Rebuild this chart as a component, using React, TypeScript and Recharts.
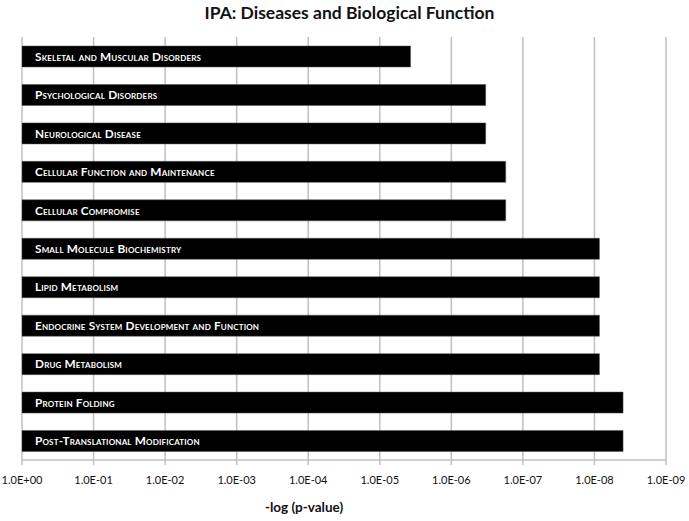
import React from 'react';
import { BarChart, Bar, XAxis, YAxis, CartesianGrid, LabelList } from 'recharts';

const categories = [
  'Skeletal and Muscular Disorders',
  'Psychological Disorders',
  'Neurological Disease',
  'Cellular Function and Maintenance',
  'Cellular Compromise',
  'Small Molecule Biochemistry',
  'Lipid Metabolism',
  'Endocrine System Development and Function',
  'Drug Metabolism',
  'Protein Folding',
  'Post-Translational Modification',
];

// -log10(p-value)
const negLogP = [5.43, 6.48, 6.48, 6.76, 6.76, 8.07, 8.07, 8.07, 8.07, 8.4, 8.4];

const xTicks = [0, 1, 2, 3, 4, 5, 6, 7, 8, 9];
const xTickLabels = ['1.0E+00', '1.0E-01', '1.0E-02', '1.0E-03', '1.0E-04', '1.0E-05', '1.0E-06', '1.0E-07', '1.0E-08', '1.0E-09'];

const chartTitle = 'IPA: Diseases and Biological Function';
const xTitle = '-log (p-value)';

const data = categories.map((name, i) => ({ name, value: negLogP[i] }));

const W = 689;
const H = 521;
const M = { top: 37, right: 23, left: 22, bottom: 0 };
const X_AXIS_H = 61;
const GRID = '#c0c0c0';
const FONT = 'Lato, "Open Sans", sans-serif';

const plotH = H - M.top - M.bottom - X_AXIS_H;
const half = plotH / categories.length / 2;

const YTick = (props: any) => {
  const { x, y } = props;
  return (
    <line x1={x - 4} x2={x} y1={y - half} y2={y - half} stroke={GRID} strokeWidth={1.5} />
  );
};

const BarText = (props: any) => {
  const { x, y, height, value } = props;
  return (
    <text
      x={x + 13}
      y={y + height / 2}
      dy="0.36em"
      fill="#ffffff"
      fontFamily={FONT}
      fontWeight={700}
      fontSize={11.8}
      letterSpacing={0.17}
      style={{ fontVariant: 'small-caps' }}
    >
      {value}
    </text>
  );
};

const XTitle = (props: any) => {
  const { viewBox } = props;
  return (
    <text
      x={viewBox.x + viewBox.width / 2 - 40}
      y={viewBox.y + 52}
      textAnchor="middle"
      fontFamily={FONT}
      fontWeight={700}
      fontSize={13.5}
      fill="#111"
    >
      {xTitle}
    </text>
  );
};

export default function App() {
  return (
    <div style={{ position: 'absolute', left: 0, top: 0, width: W, height: H, background: '#fff' }}>
      <div
        style={{
          position: 'absolute',
          left: 0,
          top: 2,
          width: W,
          textAlign: 'center',
          fontFamily: FONT,
          fontWeight: 700,
          fontSize: 17.5,
          color: '#111',
          paddingLeft: 10,
          boxSizing: 'border-box',
        }}
      >
        {chartTitle}
      </div>
      <BarChart width={W} height={H} data={data} layout="vertical" margin={M}>
        <CartesianGrid horizontal={false} vertical={true} stroke={GRID} strokeWidth={1.5} />
        <XAxis
          type="number"
          dataKey="value"
          domain={[0, 9]}
          ticks={xTicks}
          interval={0}
          height={X_AXIS_H}
          tickFormatter={(v: number) => xTickLabels[v]}
          axisLine={{ stroke: GRID, strokeWidth: 1.5 }}
          tickLine={{ stroke: GRID, strokeWidth: 1.5 }}
          tickSize={5}
          tickMargin={11}
          tick={{ fill: '#111', fontSize: 11, fontFamily: FONT }}
          label={<XTitle />}
        />
        <YAxis
          type="category"
          dataKey="name"
          width={0}
          axisLine={{ stroke: GRID, strokeWidth: 1.5 }}
          tickLine={false}
          tick={<YTick />}
          interval={0}
        />
        <Bar dataKey="value" fill="#000" stroke="#555" strokeWidth={0.5} barSize={21} isAnimationActive={false}>
          <LabelList dataKey="name" content={<BarText />} />
        </Bar>
      </BarChart>
    </div>
  );
}
